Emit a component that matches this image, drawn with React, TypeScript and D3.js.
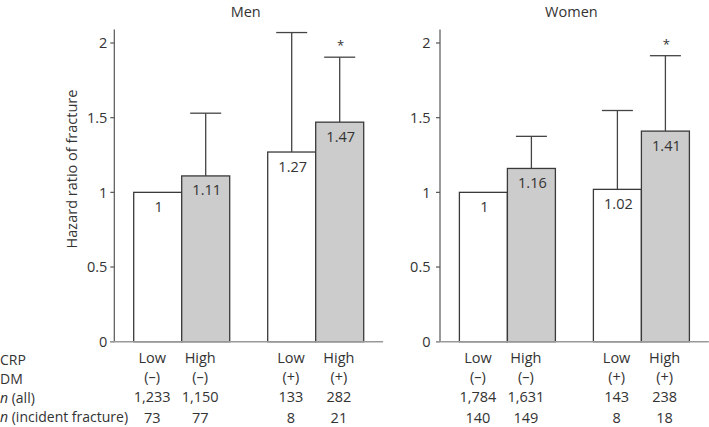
import React from "react";
import * as d3 from "d3";

const panelNames = ["Men", "Women"];
const groups = ["DM-", "DM+"];
const crpLevels = ["Low", "High"];
const crpLabels = ["Low", "High", "Low", "High"];
const dmLabels = ["(–)", "(–)", "(+)", "(+)"];
const menHR = [1, 1.11, 1.27, 1.47];
const menUpper = [null, 1.53, 2.07, 1.905];
const womenHR = [1, 1.16, 1.02, 1.41];
const womenUpper = [null, 1.375, 1.548, 1.915];
const menNAll = ["1,233", "1,150", "133", "282"];
const menNInc = ["73", "77", "8", "21"];
const womenNAll = ["1,784", "1,631", "143", "238"];
const womenNInc = ["140", "149", "8", "18"];
const menSig = [false, false, false, true];
const womenSig = [false, false, false, true];
const yTicks = [0, 0.5, 1, 1.5, 2];
const yTickLabels = ["0", "0.5", "1", "1.5", "2"];
const rowLabels = ["CRP", "DM", "n (all)", "n (incident fracture)"];
const yAxisTitle = "Hazard ratio of fracture";

const W = 709;
const H = 427;
const FONT = "'Open Sans', sans-serif";
const TXT = "#333";

const y = d3.scaleLinear().domain([0, 2]).range([341.7, 43]);
const yTop = 2.09;

const panels = [
  { name: panelNames[0], axisX: 114.3, hr: menHR, up: menUpper, nAll: menNAll, nInc: menNInc, sig: menSig, tickGap: 7, labelOff: [-5.5, -0.8] },
  { name: panelNames[1], axisX: 440, hr: womenHR, up: womenUpper, nAll: womenNAll, nInc: womenNInc, sig: womenSig, tickGap: 9.5, labelOff: [-5.5, -0.8] },
];

const barW = 48;
const innerGap = 38;
const outerGap = 19.4;

export default function App() {
  return (
    <svg width={W} height={H} style={{ position: "absolute", left: 0, top: 0, background: "#fff" }} fontFamily={FONT}>
      {/* row labels */}
      {[365, 384, 403, 422].map((by, i) => (
        <text key={"rl" + i} x={0} y={by} fontSize={14} fill={TXT}>
          {i >= 2 ? (
            <>
              <tspan fontStyle="italic">n</tspan>
              {rowLabels[i].slice(1)}
            </>
          ) : (
            rowLabels[i]
          )}
        </text>
      ))}
      <text
        transform={`translate(77,169) rotate(-90)`}
        textAnchor="middle"
        fontSize={14.5}
        fill={TXT}
      >
        {yAxisTitle}
      </text>
      {panels.map((p, pi) => {
        const x0 = p.axisX + outerGap;
        const gx = d3
          .scaleBand()
          .domain(groups)
          .range([x0, x0 + barW * 4 + innerGap])
          .paddingInner(innerGap / (barW * 2 + innerGap))
          .paddingOuter(0);
        const ix = d3.scaleBand().domain(crpLevels).range([0, gx.bandwidth()]).padding(0);
        const endX = x0 + barW * 4 + innerGap + outerGap;
        const bars = p.hr.map((v, i) => {
          const g = groups[Math.floor(i / 2)];
          const c = crpLevels[i % 2];
          const bx = (gx(g) as number) + (ix(c) as number);
          return { v, i, bx, cx: bx + ix.bandwidth() / 2, gi: Math.floor(i / 2) };
        });
        return (
          <g key={p.name}>
            <text x={(p.axisX + endX) / 2 - 3} y={17} textAnchor="middle" fontSize={14.5} fill={TXT}>
              {p.name}
            </text>
            {bars.map((b) => (
              <rect
                key={"b" + b.i}
                x={b.bx}
                y={y(b.v)}
                width={ix.bandwidth()}
                height={y(0) - y(b.v)}
                fill={b.i % 2 === 1 ? "#cccccc" : "#ffffff"}
                stroke="#3a3a3a"
                strokeWidth={1.3}
              />
            ))}
            {bars.map((b) =>
              p.up[b.i] != null ? (
                <g key={"e" + b.i} stroke="#444" strokeWidth={1.3}>
                  <line x1={b.cx} x2={b.cx} y1={y(b.v)} y2={y(p.up[b.i] as number)} />
                  <line x1={b.cx - 15.5} x2={b.cx + 15.5} y1={y(p.up[b.i] as number)} y2={y(p.up[b.i] as number)} />
                </g>
              ) : null
            )}
            {bars.map((b) =>
              p.sig[b.i] ? (
                <text key={"s" + b.i} x={b.cx + 1} y={y(p.up[b.i] as number) - 7} textAnchor="middle" fontSize={13} fill={TXT}>
                  *
                </text>
              ) : null
            )}
            {bars.map((b) => (
              <text key={"v" + b.i} x={b.cx + 1} y={y(b.v) + 19.5} textAnchor="middle" fontSize={14.5} fill={TXT}>
                {String(b.v)}
              </text>
            ))}
            {/* y axis */}
            <line x1={p.axisX} x2={p.axisX} y1={y(yTop)} y2={y(0)} stroke="#555" strokeWidth={1.2} />
            {yTicks.map((t, ti) => (
              <g key={"t" + ti}>
                <line x1={p.axisX - 4} x2={p.axisX} y1={y(t)} y2={y(t)} stroke="#555" strokeWidth={1.2} />
                <text x={p.axisX - p.tickGap} y={y(t)} dy="0.36em" textAnchor="end" fontSize={14.5} fill={TXT}>
                  {yTickLabels[ti]}
                </text>
              </g>
            ))}
            <line x1={p.axisX - 4} x2={endX} y1={y(0)} y2={y(0)} stroke="#999" strokeWidth={1.5} />
            {/* table */}
            {bars.map((b) => {
              const lx = b.cx + p.labelOff[b.gi];
              return (
                <g key={"tb" + b.i} textAnchor="middle" fontSize={14.5} fill={TXT}>
                  <text x={lx} y={362.5}>{crpLabels[b.i]}</text>
                  <text x={lx} y={381.5}>{dmLabels[b.i]}</text>
                  <text x={lx} y={401.5}>{p.nAll[b.i]}</text>
                  <text x={lx} y={422.5}>{p.nInc[b.i]}</text>
                </g>
              );
            })}
          </g>
        );
      })}
    </svg>
  );
}
